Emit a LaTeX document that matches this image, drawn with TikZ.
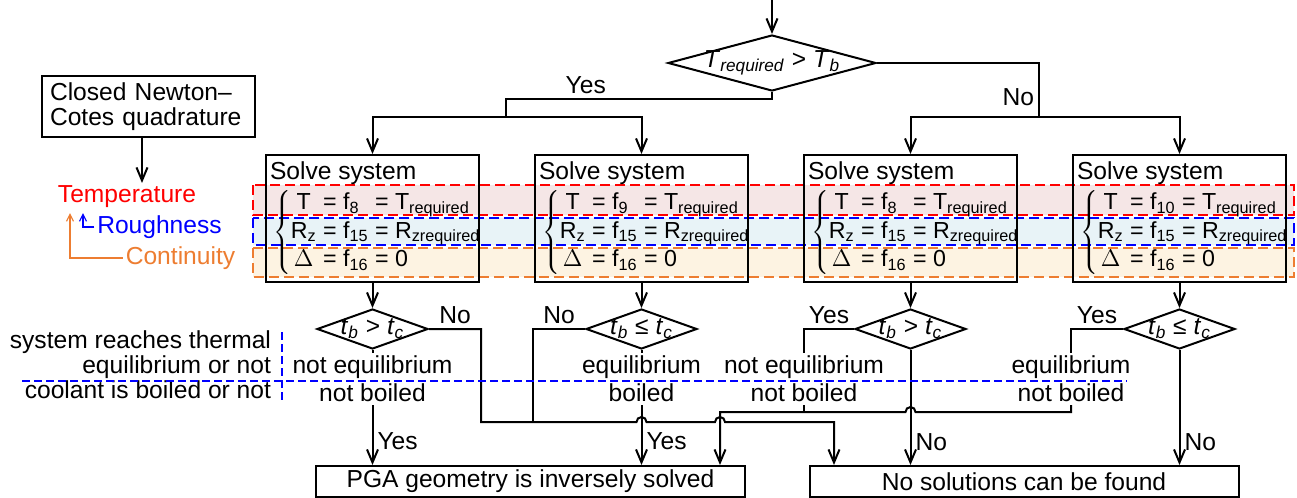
\documentclass[tikz,border=0pt]{standalone}
\usepackage{fontspec}
\setmainfont{Liberation Sans}
\usetikzlibrary{arrows.meta, positioning, calc, shapes.geometric}
\definecolor{bandred}{RGB}{245,230,230}
\definecolor{bandblue}{RGB}{232,243,247}
\definecolor{bandorange}{RGB}{253,243,226}
\definecolor{contorange}{RGB}{237,125,49}
\tikzset{
  stepbox/.style  = {rectangle, draw, minimum width=106.5pt, minimum height=63.5pt, inner sep=0pt,
                     label={[anchor=north west, inner xsep=2pt, inner ysep=3.5pt]north west:Solve system}},
  endbox/.style   = {rectangle, draw, minimum width=214.5pt, minimum height=15.5pt, inner sep=0pt},
  note/.style     = {rectangle, draw, align=left, text width=98.5pt, inner xsep=4pt, inner ysep=3pt,
                     minimum height=30.5pt, font=\fontsize{12.3}{12.5}\selectfont},
  cond/.style     = {diamond, draw, inner sep=0pt, minimum width=55.5pt, minimum height=20pt},
  state/.style    = {align=center, inner xsep=0pt, inner ysep=1pt},
  eqs/.style      = {anchor=west, inner sep=0pt, font=\fontsize{11.6}{14.25}\selectfont},
  band/.style     = {line width=1pt, dash pattern=on 5pt off 2.5pt},
  sepline/.style  = {blue, line width=0.6pt, dash pattern=on 4pt off 2pt},
  flow/.style     = {-{Straight Barb[length=6.5pt, width=5.5pt]}},
  cue/.style      = {-{Straight Barb[length=3.5pt, width=3.5pt]}, line width=0.6pt},
  blab/.style     = {inner sep=2pt},
  key/.style      = {inner sep=1pt},
}
\newcommand{\ctext}[1]{\makebox[0pt]{#1}}
\newcommand{\tcmp}[1]{\ctext{\textit{t}\textsubscript{\textit{b}} #1 \textit{t}\textsubscript{\textit{c}}}}
\newcommand{\eqsys}[1]{%
  $\left\{\begin{tabular}{@{}c@{~=~}l@{~=~}l@{}}
    T & f\textsubscript{#1} & T\textsubscript{required}\\
    R\textsubscript{z} & f\textsubscript{15} & R\textsubscript{zrequired}\\
    $\Delta$ & f\textsubscript{16} & 0
  \end{tabular}\right.$}

\begin{document}
\begin{tikzpicture}[x=0.5pt, y=-0.5pt, line width=1pt, font=\fontsize{12.3}{14}\selectfont]
  \useasboundingbox (0,0) rectangle (1297,498);
  % coloured bands behind the four systems
  \draw[band, draw=red, fill=bandred] (253,185) rectangle (1294,215);
  \draw[band, draw=blue, fill=bandblue] (253,218) rectangle (1294,245);
  \draw[band, draw=contorange, fill=bandorange] (253,248) rectangle (1294,277);

  \coordinate (in) at (772,0);
  \node[cond, minimum width=104pt, minimum height=28pt] (dt) at (772,63)
    {\ctext{\textit{T}\textsubscript{\textit{required}} > \textit{T}\textsubscript{\textit{b}}}};

  \node[stepbox] (s1) at (372.5,218.5) {};
  \node[stepbox, right=27pt of s1] (s2) {};
  \node[stepbox, right=27pt of s2] (s3) {};
  \node[stepbox, right=27pt of s3] (s4) {};
  \node[eqs] (e1) at ([xshift=3.5pt, yshift=-7pt]s1.west) {\eqsys{8}};
  \node[eqs] (e2) at ([xshift=3.5pt, yshift=-7pt]s2.west) {\eqsys{9}};
  \node[eqs] (e3) at ([xshift=3.5pt, yshift=-7pt]s3.west) {\eqsys{8}};
  \node[eqs] (e4) at ([xshift=3.5pt, yshift=-7pt]s4.west) {\eqsys{10}};

  \node[cond, below=12.5pt of s1] (d1) {\tcmp{>}};
  \node[cond, below=12.5pt of s2] (d2) {\tcmp{≤}};
  \node[cond, below=12.5pt of s3] (d3) {\tcmp{>}};
  \node[cond, below=12.5pt of s4] (d4) {\tcmp{≤}};

  \node[state] (l1) at (372.5,379) {not equilibrium\\not boiled};
  \node[state] (l2) at (641.5,379) {equilibrium\\boiled};
  \node[state] (l3) at (804,379) {not equilibrium\\not boiled};
  \node[state] (l4) at (1071,379) {equilibrium\\not boiled};

  \node[endbox] (pga) at (530.5,481.5) {PGA geometry is inversely solved};
  \node[endbox] (nos) at (1024,481.5) {No solutions can be found};

  % top decision
  \coordinate (yk) at (506,99);
  \coordinate (ya) at (506,117);
  \coordinate (nk) at (1039,117);
  \draw[flow] (in) -- (dt);
  \draw[flow] (dt.south) |- node[blab, above, pos=0.85] {Yes} (yk) -- (ya) -| (s1.north);
  \draw[flow] (ya) -| (s2.north);
  \draw[flow] (dt.east) -| node[blab, left, pos=0.82] {No} (nk) -| (s3.north);
  \draw[flow] (nk) -| (s4.north);
  \draw[flow] (s1) -- (d1);
  \draw[flow] (s2) -- (d2);
  \draw[flow] (s3) -- (d3);
  \draw[flow] (s4) -- (d4);

  % lower decisions
  \coordinate (na) at (481,422);
  \coordinate (nb) at (834,422);
  \coordinate (nc) at (533,422);
  \coordinate (yl) at (720,412);
  \draw (d1) -- (l1);
  \draw[flow] (l1) -- node[blab, right, pos=0.6] {Yes} (l1 |- pga.north);
  \draw[flow] (d1.east) -| node[blab, above, pos=0.25] {No} (na)
    -- ($(l2 |- na)+(-5,0)$) arc[start angle=180, end angle=360, radius=5]
    -- ($(yl |- na)+(-5,0)$) arc[start angle=180, end angle=360, radius=5]
    -- (nb) -- (nos.north -| nb);
  \draw (d2.west) -| node[blab, above, pos=0.25] {No} (nc);
  \draw (d2) -- (l2);
  \draw[flow] (l2) -- node[blab, right, pos=0.6] {Yes} (l2 |- pga.north);
  \draw (d3.west) -| node[blab, above, pos=0.25] {Yes} (l3.north);
  \draw (l3) -- (l3 |- yl);
  \draw[flow] (d3) -- node[blab, right, pos=0.8] {No} (d3 |- nos.north);
  \draw (d4.west) -| node[blab, above, pos=0.25] {Yes} (l4.north);
  \draw[flow] (l4) |- ($(d3 |- yl)+(5,0)$) arc[start angle=0, end angle=-180, radius=5]
    -- (yl) -- (yl |- pga.north);
  \draw[flow] (d4) -- node[blab, right, pos=0.8] {No} (d4 |- nos.north);

  % left side notes
  \node[note] (cnc) at (148.5,106.5) {Closed Newton--\\Cotes quadrature};
  \node[key, text=red] (temp) at (127,197) {Temperature};
  \node[key, text=blue] (rough) at (159.5,227) {Roughness};
  \node[key, text=contorange] (cont) at (180.5,258) {Continuity};
  \coordinate (rtip) at (83,213);
  \coordinate (ctip) at (70,213);
  \draw[flow] ([xshift=-3.25pt]cnc.south) -- ([xshift=-3.25pt]cnc.south |- temp.north);
  \draw[cue, blue] (rough.west) -| (rtip);
  \draw[cue, contorange] (cont.west) -| (ctip);

  \node[key, anchor=east, align=right, font=\fontsize{12.3}{12.5}\selectfont] (qeq) at (274,355)
    {system reaches thermal\\equilibrium or not};
  \node[key, anchor=east] (qbo) at (274,390) {coolant is boiled or not};
  \draw[sepline] (22,381) -- (1127,381);
  \draw[sepline] (282,332) -- (282,403);
\end{tikzpicture}
\end{document}
